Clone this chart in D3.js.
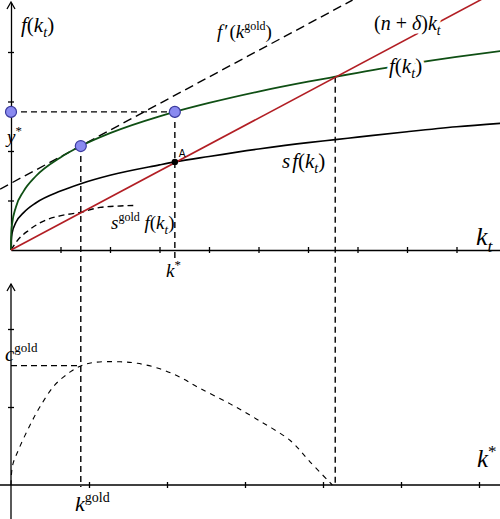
<!DOCTYPE html>
<meta charset="utf-8">
<html>
<head>
<title>Solow model - golden rule</title>
<script src="https://cdnjs.cloudflare.com/ajax/libs/d3/7.8.5/d3.min.js"></script>
<style>
body {
  margin: 0;
  background: #fff;
}
svg {
  display: block;
}
.axis path, .axis line {
  stroke: #000;
  stroke-width: 1.3px;
}
.dash {
  fill: none;
  stroke: #000;
  stroke-width: 1.4px;
  stroke-dasharray: 6,4;
}
</style>
</head>
<body>
<script>
// capital per worker on the grid the curves were read on
var kGrid = [0, 0.005, 0.02, 0.1, 0.25, 0.5, 1, 1.41, 2, 3, 3.31, 4, 5, 6, 6.55, 7, 8, 9, 9.9];
var fVals = [0, 0.32, 0.51, 0.87, 1.18, 1.49, 1.87, 2.10, 2.36, 2.70, 2.79, 2.97, 3.20, 3.40, 3.50, 3.58, 3.75, 3.90, 4.02];
var sfVals = [0, 0.20, 0.33, 0.56, 0.75, 0.95, 1.19, 1.34, 1.51, 1.72, 1.78, 1.89, 2.04, 2.17, 2.23, 2.28, 2.39, 2.49, 2.56];

// s^gold f(k) dashed curve
var kGold = [0, 0.12, 0.36, 0.67, 0.99, 1.40, 1.80, 2.21, 2.47];
var sgVals = [0, 0.18, 0.40, 0.59, 0.69, 0.76, 0.86, 0.89, 0.90];

// (n + delta) k and the tangent f'(k^gold)
var kRed = [0, 9.5];
var redVals = [0, 5.06];
var kTan = [-0.22, 6.9];
var tanVals = [1.23, 5.05];

// key points
var kGoldStar = 1.41, fGold = 2.10;
var kStar = 3.31, yStar = 2.79, sfStar = 1.78;
var kMax = 6.55, fMax = 3.50;

// lower panel: steady state consumption against k*
var kCons = [0, 0.02, 0.1, 0.24, 0.37, 0.56, 0.76, 0.90, 1.05, 1.40, 1.62, 1.91, 2.17, 2.42, 2.81, 3.19, 3.58, 3.83, 4.12];
var cVals = [0, 0.25, 0.46, 0.76, 1.0, 1.28, 1.45, 1.53, 1.57, 1.58, 1.56, 1.49, 1.38, 1.24, 1.04, 0.82, 0.57, 0.30, 0];
var kGoldBot = 0.90, cGold = 1.53;

var topXTicks = [1, 2, 3, 4, 5, 6, 7, 8, 9];
var topYTicks = [1, 2, 3, 4];
var botXTicks = [1, 2, 3, 4, 5, 6];
var botYTicks = [1, 2];

var width = 500, height = 519;
var serif = '"Liberation Serif","DejaVu Serif",serif';

var svg = d3.select('body').append('svg')
  .attr('width', width)
  .attr('height', height);

var x = d3.scaleLinear().domain([0, 10]).range([11, 506]);
var y = d3.scaleLinear().domain([0, 5]).range([250, 2.5]);
var xb = d3.scaleLinear().domain([0, 6]).range([11, 479]);
var yb = d3.scaleLinear().domain([0, 2]).range([485, 329]);

function zip(a, b) { return a.map(function(v, i) { return [v, b[i]]; }); }

var line = d3.line()
  .x(function(d) { return x(d[0]); })
  .y(function(d) { return y(d[1]); })
  .curve(d3.curveMonotoneX);

var lineB = d3.line()
  .x(function(d) { return xb(d[0]); })
  .y(function(d) { return yb(d[1]); })
  .curve(d3.curveCatmullRom.alpha(0.5));

// ---- axes ----
var gx = svg.append('g').attr('class', 'axis')
  .attr('transform', 'translate(0,' + y(0) + ')')
  .call(d3.axisBottom(x).tickValues(topXTicks).tickSize(3).tickSizeOuter(0).tickFormat(''));
gx.selectAll('.tick line').attr('y1', -3);

var gy = svg.append('g').attr('class', 'axis')
  .attr('transform', 'translate(' + x(0) + ',0)')
  .call(d3.axisLeft(y).tickValues(topYTicks).tickSize(3).tickSizeOuter(0).tickFormat(''));
gy.selectAll('.tick line').attr('x1', 3);

var gxb = svg.append('g').attr('class', 'axis')
  .attr('transform', 'translate(0,' + yb(0) + ')')
  .call(d3.axisBottom(xb).tickValues(botXTicks).tickSize(3).tickSizeOuter(0).tickFormat(''));
gxb.selectAll('.tick line').attr('y1', -3);
gxb.select('.domain').attr('d', 'M0,0H' + width);

var gyb = svg.append('g').attr('class', 'axis')
  .attr('transform', 'translate(' + xb(0) + ',0)')
  .call(d3.axisLeft(yb).tickValues(botYTicks).tickSize(3).tickSizeOuter(0).tickFormat(''));
gyb.selectAll('.tick line').attr('x1', 3);
gyb.select('.domain').attr('d', 'M0,' + height + 'V284');

// arrow heads on the vertical axes
[2, 284].forEach(function(top) {
  svg.append('path')
    .attr('d', 'M' + (x(0) - 4) + ',' + (top + 7) + 'L' + x(0) + ',' + top + 'L' + (x(0) + 4) + ',' + (top + 7))
    .attr('fill', 'none')
    .attr('stroke', '#000')
    .attr('stroke-width', 1.3);
});

// ---- dashed guides ----
svg.append('path').attr('class', 'dash')
  .style('stroke-dasharray', '9,5')
  .attr('d', line(zip(kTan, tanVals)));
svg.append('path').attr('class', 'dash').attr('d', line(zip(kGold, sgVals)));

svg.append('line').attr('class', 'dash')
  .attr('x1', x(0)).attr('y1', y(yStar)).attr('x2', x(kStar)).attr('y2', y(yStar));
svg.append('line').attr('class', 'dash')
  .attr('x1', x(kGoldStar)).attr('y1', y(fGold)).attr('x2', x(kGoldStar)).attr('y2', yb(0) + 2);
svg.append('line').attr('class', 'dash')
  .attr('x1', x(kStar)).attr('y1', y(yStar)).attr('x2', x(kStar)).attr('y2', y(-0.17));
svg.append('line').attr('class', 'dash')
  .attr('x1', x(kMax)).attr('y1', y(fMax)).attr('x2', x(kMax)).attr('y2', yb(0));
svg.append('line').attr('class', 'dash')
  .attr('x1', xb(0)).attr('y1', yb(cGold)).attr('x2', xb(kGoldBot)).attr('y2', yb(cGold));

svg.append('path').attr('class', 'dash')
  .style('stroke-width', '1.1px')
  .style('stroke-dasharray', '5,5')
  .attr('d', lineB(zip(kCons, cVals)));

// ---- curves ----
svg.append('path')
  .attr('d', line(zip(kGrid, sfVals)))
  .attr('fill', 'none').attr('stroke', '#000').attr('stroke-width', 1.6);

svg.append('path')
  .attr('d', line(zip(kGrid, fVals)))
  .attr('fill', 'none').attr('stroke', '#0f4f14').attr('stroke-width', 1.8);

svg.append('path')
  .attr('d', line(zip(kRed, redVals)))
  .attr('fill', 'none').attr('stroke', '#b21e24').attr('stroke-width', 1.6);

// ---- points ----
svg.selectAll('circle.gold')
  .data([[0, yStar], [kGoldStar, fGold], [kStar, yStar]])
  .enter().append('circle')
  .attr('class', 'gold')
  .attr('cx', function(d) { return x(d[0]); })
  .attr('cy', function(d) { return y(d[1]); })
  .attr('r', 5.5)
  .attr('fill', '#8a8af0')
  .attr('stroke', '#3b3b9e')
  .attr('stroke-width', 1.2);

svg.append('circle')
  .attr('cx', x(kStar)).attr('cy', y(sfStar)).attr('r', 3.2)
  .attr('fill', '#000');

// ---- labels ----
function buildText(px, py, size, parts) {
  var t = svg.append('text')
    .attr('x', px).attr('y', py)
    .style('font-family', serif)
    .style('font-size', size + 'px')
    .attr('fill', '#000');
  var cur = 0;
  parts.forEach(function(p) {
    var shift = p.sub ? size * 0.25 : (p.sup ? -size * 0.42 : 0);
    var s = t.append('tspan').text(p.t).attr('dy', shift - cur);
    cur = shift;
    if (p.dx) s.attr('dx', p.dx);
    if (p.i) s.style('font-style', 'italic');
    if (p.sub || p.sup) s.style('font-size', (p.small || size * 0.68) + 'px');
  });
  return t;
}

function mathText(px, py, size, parts, halo) {
  if (halo) {
    // white copy underneath breaks the lines running through the label
    buildText(px, py, size, parts)
      .attr('fill', '#fff')
      .attr('stroke', '#fff')
      .attr('stroke-width', 7)
      .attr('stroke-linejoin', 'round');
  }
  return buildText(px, py, size, parts);
}

mathText(21, 32, 21, [{t: 'f', i: 1}, {t: '('}, {t: 'k', i: 1}, {t: 't', i: 1, sub: 1}, {t: ')'}]);
mathText(7, 143, 19, [{t: 'y', i: 1}, {t: '*', sup: 1}]);
mathText(217, 38, 19, [{t: 'f', i: 1}, {t: '\u2032', dx: 2}, {t: '(', dx: 1}, {t: 'k', i: 1}, {t: 'gold', sup: 1, small: 12}, {t: ')'}]);
mathText(374, 30, 20, [{t: '('}, {t: 'n', i: 1}, {t: ' + '}, {t: 'δ', i: 1}, {t: ')'}, {t: 'k', i: 1}, {t: 't', i: 1, sub: 1}], true);
mathText(389, 73, 21, [{t: 'f', i: 1}, {t: '('}, {t: 'k', i: 1}, {t: 't', i: 1, sub: 1}, {t: ')'}], true);
mathText(282, 168, 21, [{t: 's', i: 1}, {t: 'f', i: 1, dx: 2}, {t: '('}, {t: 'k', i: 1}, {t: 't', i: 1, sub: 1}, {t: ')'}]);
mathText(111, 229, 19, [{t: 's', i: 1}, {t: 'gold', sup: 1, small: 12}, {t: ' f', i: 1}, {t: '('}, {t: 'k', i: 1}, {t: 't', i: 1, sub: 1}, {t: ')'}]);
mathText(476, 245, 26, [{t: 'k', i: 1}, {t: 't', i: 1, sub: 1}]);
mathText(166, 277, 19, [{t: 'k', i: 1}, {t: '*', sup: 1}]);
mathText(5, 361, 21, [{t: 'c', i: 1}, {t: 'gold', sup: 1, small: 13}]);
mathText(75, 511, 22, [{t: 'k', i: 1}, {t: 'gold', sup: 1, small: 14}]);
mathText(477, 467, 25, [{t: 'k', i: 1}, {t: '*', sup: 1}]);

svg.append('text')
  .attr('x', x(kStar) + 4).attr('y', y(sfStar) - 5)
  .style('font-family', '"DejaVu Sans",sans-serif')
  .style('font-size', '10px')
  .text('A');
</script>
</body>
</html>
